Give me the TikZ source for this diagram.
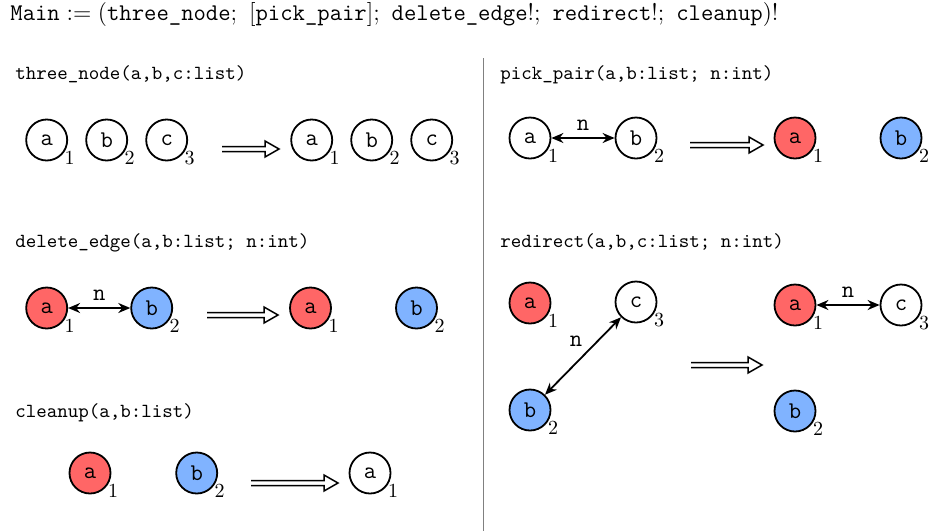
\documentclass[tikz,border=0pt]{standalone}
\usetikzlibrary{arrows.meta}
\definecolor{nred}{HTML}{FF6666}
\definecolor{nblue}{HTML}{80B3FF}
\newcommand\implarrow[3]{%
  \draw[line width=0.75pt, line join=miter] (#1,#3-2.5) -- (#2-14,#3-2.5) -- (#2-14,#3-8) -- (#2,#3) -- (#2-14,#3+8) -- (#2-14,#3+2.5) -- (#1,#3+2.5);}
\begin{document}
\begin{tikzpicture}[x=0.5pt,y=-0.5pt,
  gn/.style={circle, draw, line width=0.9pt, minimum size=20.5pt, inner sep=0pt, font=\large\ttfamily},
  rn/.style={gn, fill=nred},
  bn/.style={gn, fill=nblue},
  idx/.style={label={[inner sep=0pt, font=\normalsize, xshift=11.5pt, yshift=-9pt]center:#1}},
  edgetwo/.style={line width=0.9pt, {Stealth[length=6pt,width=5pt]}-{Stealth[length=6pt,width=5pt]}},
  hdr/.style={anchor=base west, inner sep=0pt, font=\ttfamily},
  elab/.style={font=\large\ttfamily, inner sep=0pt}
]
\useasboundingbox (0,0) rectangle (935,531);
% title
\node[anchor=base west, inner sep=0pt, font=\large] (title) at (10,20)
  {$\texttt{Main} := (\texttt{three\_node};\ [\texttt{pick\_pair}];\ \texttt{delete\_edge}!;\ \texttt{redirect}!;\ \texttt{cleanup})!$};
% separator
\draw[gray, line width=0.5pt] (483,58) -- (483,531);
% headers
\node[hdr] (h1) at (15,79) {three\_node(a,b,c:list)};
\node[hdr] (h2) at (15,247) {delete\_edge(a,b:list; n:int)};
\node[hdr] (h3) at (15,417) {cleanup(a,b:list)};
\node[hdr] (h4) at (500,79) {pick\_pair(a,b:list; n:int)};
\node[hdr] (h5) at (500,247) {redirect(a,b,c:list; n:int)};
% three_node
\node[gn, idx=1] (ta) at (46.7,140) {a};
\node[gn, idx=2] (tb) at (106.7,140) {b};
\node[gn, idx=3] (tc) at (166.7,140) {c};
\implarrow{222}{279}{149}
\node[gn, idx=1] (ta2) at (311.7,140) {a};
\node[gn, idx=2] (tb2) at (371.7,140) {b};
\node[gn, idx=3] (tc2) at (431.7,140) {c};
% delete_edge
\node[rn, idx=1] (da) at (46.7,308) {a};
\node[bn, idx=2] (db) at (151.7,308) {b};
\draw[edgetwo] (da) -- node[elab, midway, yshift=6.5pt] (dn) {n} (db);
\implarrow{207}{278}{315}
\node[rn, idx=1] (da2) at (310.5,308) {a};
\node[bn, idx=2] (db2) at (416.5,308) {b};
% cleanup
\node[rn, idx=1] (ca) at (90,473) {a};
\node[bn, idx=2] (cb) at (196.7,473) {b};
\implarrow{251}{338}{483}
\node[gn, idx=1] (ca2) at (370,473) {a};
% pick_pair
\node[gn, idx=1] (pa) at (530,138) {a};
\node[gn, idx=2] (pb) at (636,138) {b};
\draw[edgetwo] (pa) -- node[elab, midway, yshift=6.5pt] (pn) {n} (pb);
\implarrow{690}{763}{145}
\node[rn, idx=1] (pa2) at (795,138) {a};
\node[bn, idx=2] (pb2) at (901,138) {b};
% redirect
\node[rn, idx=1] (ra) at (530,303) {a};
\node[gn, idx=3] (rc) at (636,302) {c};
\node[bn, idx=2] (rb) at (530,410) {b};
\draw[edgetwo] (rc) -- node[elab, midway, xshift=-3.5pt, yshift=7.5pt] (rn1) {n} (rb);
\implarrow{691}{762}{365}
\node[rn, idx=1] (ra2) at (795,305) {a};
\node[gn, idx=3] (rc2) at (901,305) {c};
\node[bn, idx=2] (rb2) at (795,411) {b};
\draw[edgetwo] (ra2) -- node[elab, midway, yshift=6.5pt] (rn2) {n} (rc2);
\end{tikzpicture}
\end{document}
